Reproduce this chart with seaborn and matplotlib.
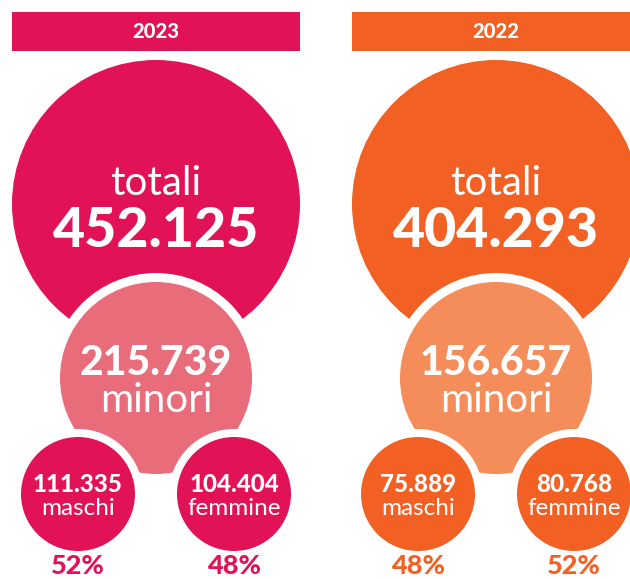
import matplotlib
matplotlib.use("Agg")
import matplotlib.pyplot as plt
from matplotlib.patches import Circle, Rectangle
import seaborn as sns

# data read from the infographic
years = ["2023", "2022"]
totali = [452125, 404293]
minori = [215739, 156657]
maschi = [111335, 75889]
femmine = [104404, 80768]
pct_maschi = [52, 48]
pct_femmine = [48, 52]

dark = ["#E11256", "#F26123"]
light = ["#E96C7B", "#F58D5B"]


def fmt(v):
    return f"{v:,}".replace(",", ".")


sns.set_theme(style="white")
plt.rcParams["font.family"] = ["Lato", "DejaVu Sans"]

fig = plt.figure(figsize=(6.3, 5.79), dpi=100)
ax = fig.add_axes([0, 0, 1, 1])
ax.set_xlim(0, 630)
ax.set_ylim(579, 0)
ax.set_aspect("equal")
ax.axis("off")

W = "white"
HEAVY = 900
for i, year in enumerate(years):
    cx = 156 + 340 * i
    # header bar
    ax.add_patch(Rectangle((cx - 144, 12), 288, 39, color=dark[i], lw=0))
    ax.text(cx, 32, year, color=W, fontsize=14.5, fontweight=HEAVY,
            ha="center", va="center")

    # big circle: totali
    ax.add_patch(Circle((cx, 204), 144, color=dark[i], lw=0))
    ax.text(cx, 195, "totali", color=W, fontsize=29, ha="center", va="baseline")
    ax.text(cx, 247, fmt(totali[i]), color=W, fontsize=40, fontweight=HEAVY,
            ha="center", va="baseline")

    # minori circle with white ring
    ax.add_patch(Circle((cx, 378), 105, color=W, lw=0))
    ax.add_patch(Circle((cx, 378), 96, color=light[i], lw=0))
    ax.text(cx, 375, fmt(minori[i]), color=W, fontsize=29.5, fontweight=HEAVY,
            ha="center", va="baseline")
    ax.text(cx, 412, "minori", color=W, fontsize=29, ha="center", va="baseline")

    # maschi / femmine circles
    for dx, val, lab, pct in [(-78, maschi[i], "maschi", pct_maschi[i]),
                              (78, femmine[i], "femmine", pct_femmine[i])]:
        sx = cx + dx
        ax.add_patch(Circle((sx, 494), 65, color=W, lw=0))
        ax.add_patch(Circle((sx, 494), 57, color=dark[i], lw=0))
        ax.text(sx, 492, fmt(val), color=W, fontsize=17.5, fontweight=HEAVY,
                ha="center", va="baseline")
        ax.text(sx, 515, lab, color=W, fontsize=17.5, ha="center", va="baseline")
        ax.text(sx, 574, f"{pct}%", color=dark[i], fontsize=19.5, fontweight=HEAVY,
                ha="center", va="baseline")

fig.savefig("out.png", dpi=100)
